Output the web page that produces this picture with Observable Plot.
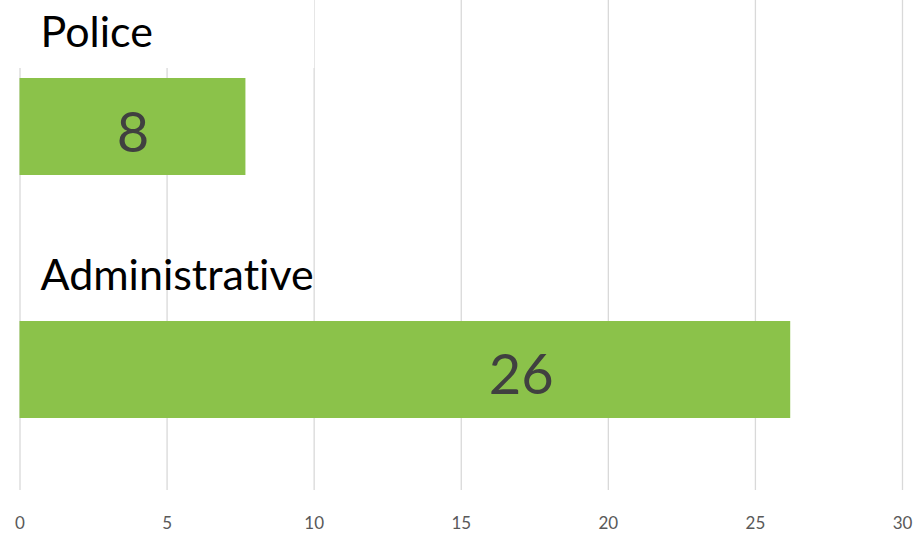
<!DOCTYPE html>
<html>
<head>
<meta charset="utf-8">
<script src="https://cdn.jsdelivr.net/npm/d3@7"></script>
<script src="https://cdn.jsdelivr.net/npm/@observablehq/plot@0.6"></script>
<style>
  html, body { margin: 0; padding: 0; background: #fff; }
  #chart { width: 915px; height: 534px; overflow: hidden; }
  svg { overflow: visible; font-variant-ligatures: none; font-feature-settings: "liga" 0, "clig" 0; }
  svg text { font-variant-ligatures: none; font-feature-settings: "liga" 0, "clig" 0; }
</style>
</head>
<body>
<div id="chart"></div>
<script>
const categories = ["Police", "Administrative"];
const values = [7.68, 26.2];
const valueLabels = ["8", "26"];
const xTicks = [0, 5, 10, 15, 20, 25, 30];

const data = categories.map((c, i) => ({category: c, value: values[i], label: valueLabels[i]}));

const FONT = "Lato, 'Open Sans', sans-serif";

const plot = Plot.plot({
  width: 915,
  height: 534,
  marginTop: 0,
  marginBottom: 44,
  marginLeft: 19.5,
  marginRight: 13,
  style: {fontFamily: FONT, background: "#fff", overflow: "visible"},
  x: {domain: [0, 30], ticks: xTicks, label: null},
  y: {domain: categories, range: [0, 486], padding: 0, axis: null, label: null},
  marks: [
    Plot.gridX(xTicks, {stroke: "#d9d9d9", strokeOpacity: 1, strokeWidth: 1.3}),
    Plot.axisX({
      ticks: xTicks, tickSize: 0, tickPadding: 26, fontSize: 17,
      fill: "#595959", label: null, anchor: "bottom"
    }),
    Plot.barX(data, {
      x: "value", y: "category", fill: "#8bc24a",
      insetTop: 78, insetBottom: 68
    }),
    Plot.text(data, {
      x: 0, y: "category", text: "category", textAnchor: "start",
      lineAnchor: "bottom", dx: 20.5, dy: -75, fontSize: 43, fill: "#000",
      className: "cat-label"
    }),
    Plot.text(data.filter(d => d.category === "Police"), {
      x: d => d.value / 2, y: "category", text: "label",
      lineAnchor: "bottom", dy: 30, fontSize: 56, fill: "#404040"
    }),
    Plot.text(data.filter(d => d.category === "Administrative"), {
      x: d => d.value / 2, y: "category", text: "label",
      lineAnchor: "bottom", dx: 116, dy: 28.5, fontSize: 56, fill: "#404040"
    })
  ]
});

document.getElementById("chart").appendChild(plot);

// white label backgrounds (cover gridlines behind category labels)
const svg = d3.select(plot);
svg.selectAll("g.cat-label text").each(function() {
  const bb = this.getBBox();
  const g = this.parentNode;
  d3.select(g).insert("rect", "text")
    .attr("x", bb.x - 20)
    .attr("y", bb.y - 16)
    .attr("width", bb.width + 40)
    .attr("height", bb.height + 28)
    .attr("fill", "#fff");
});
</script>
</body>
</html>
